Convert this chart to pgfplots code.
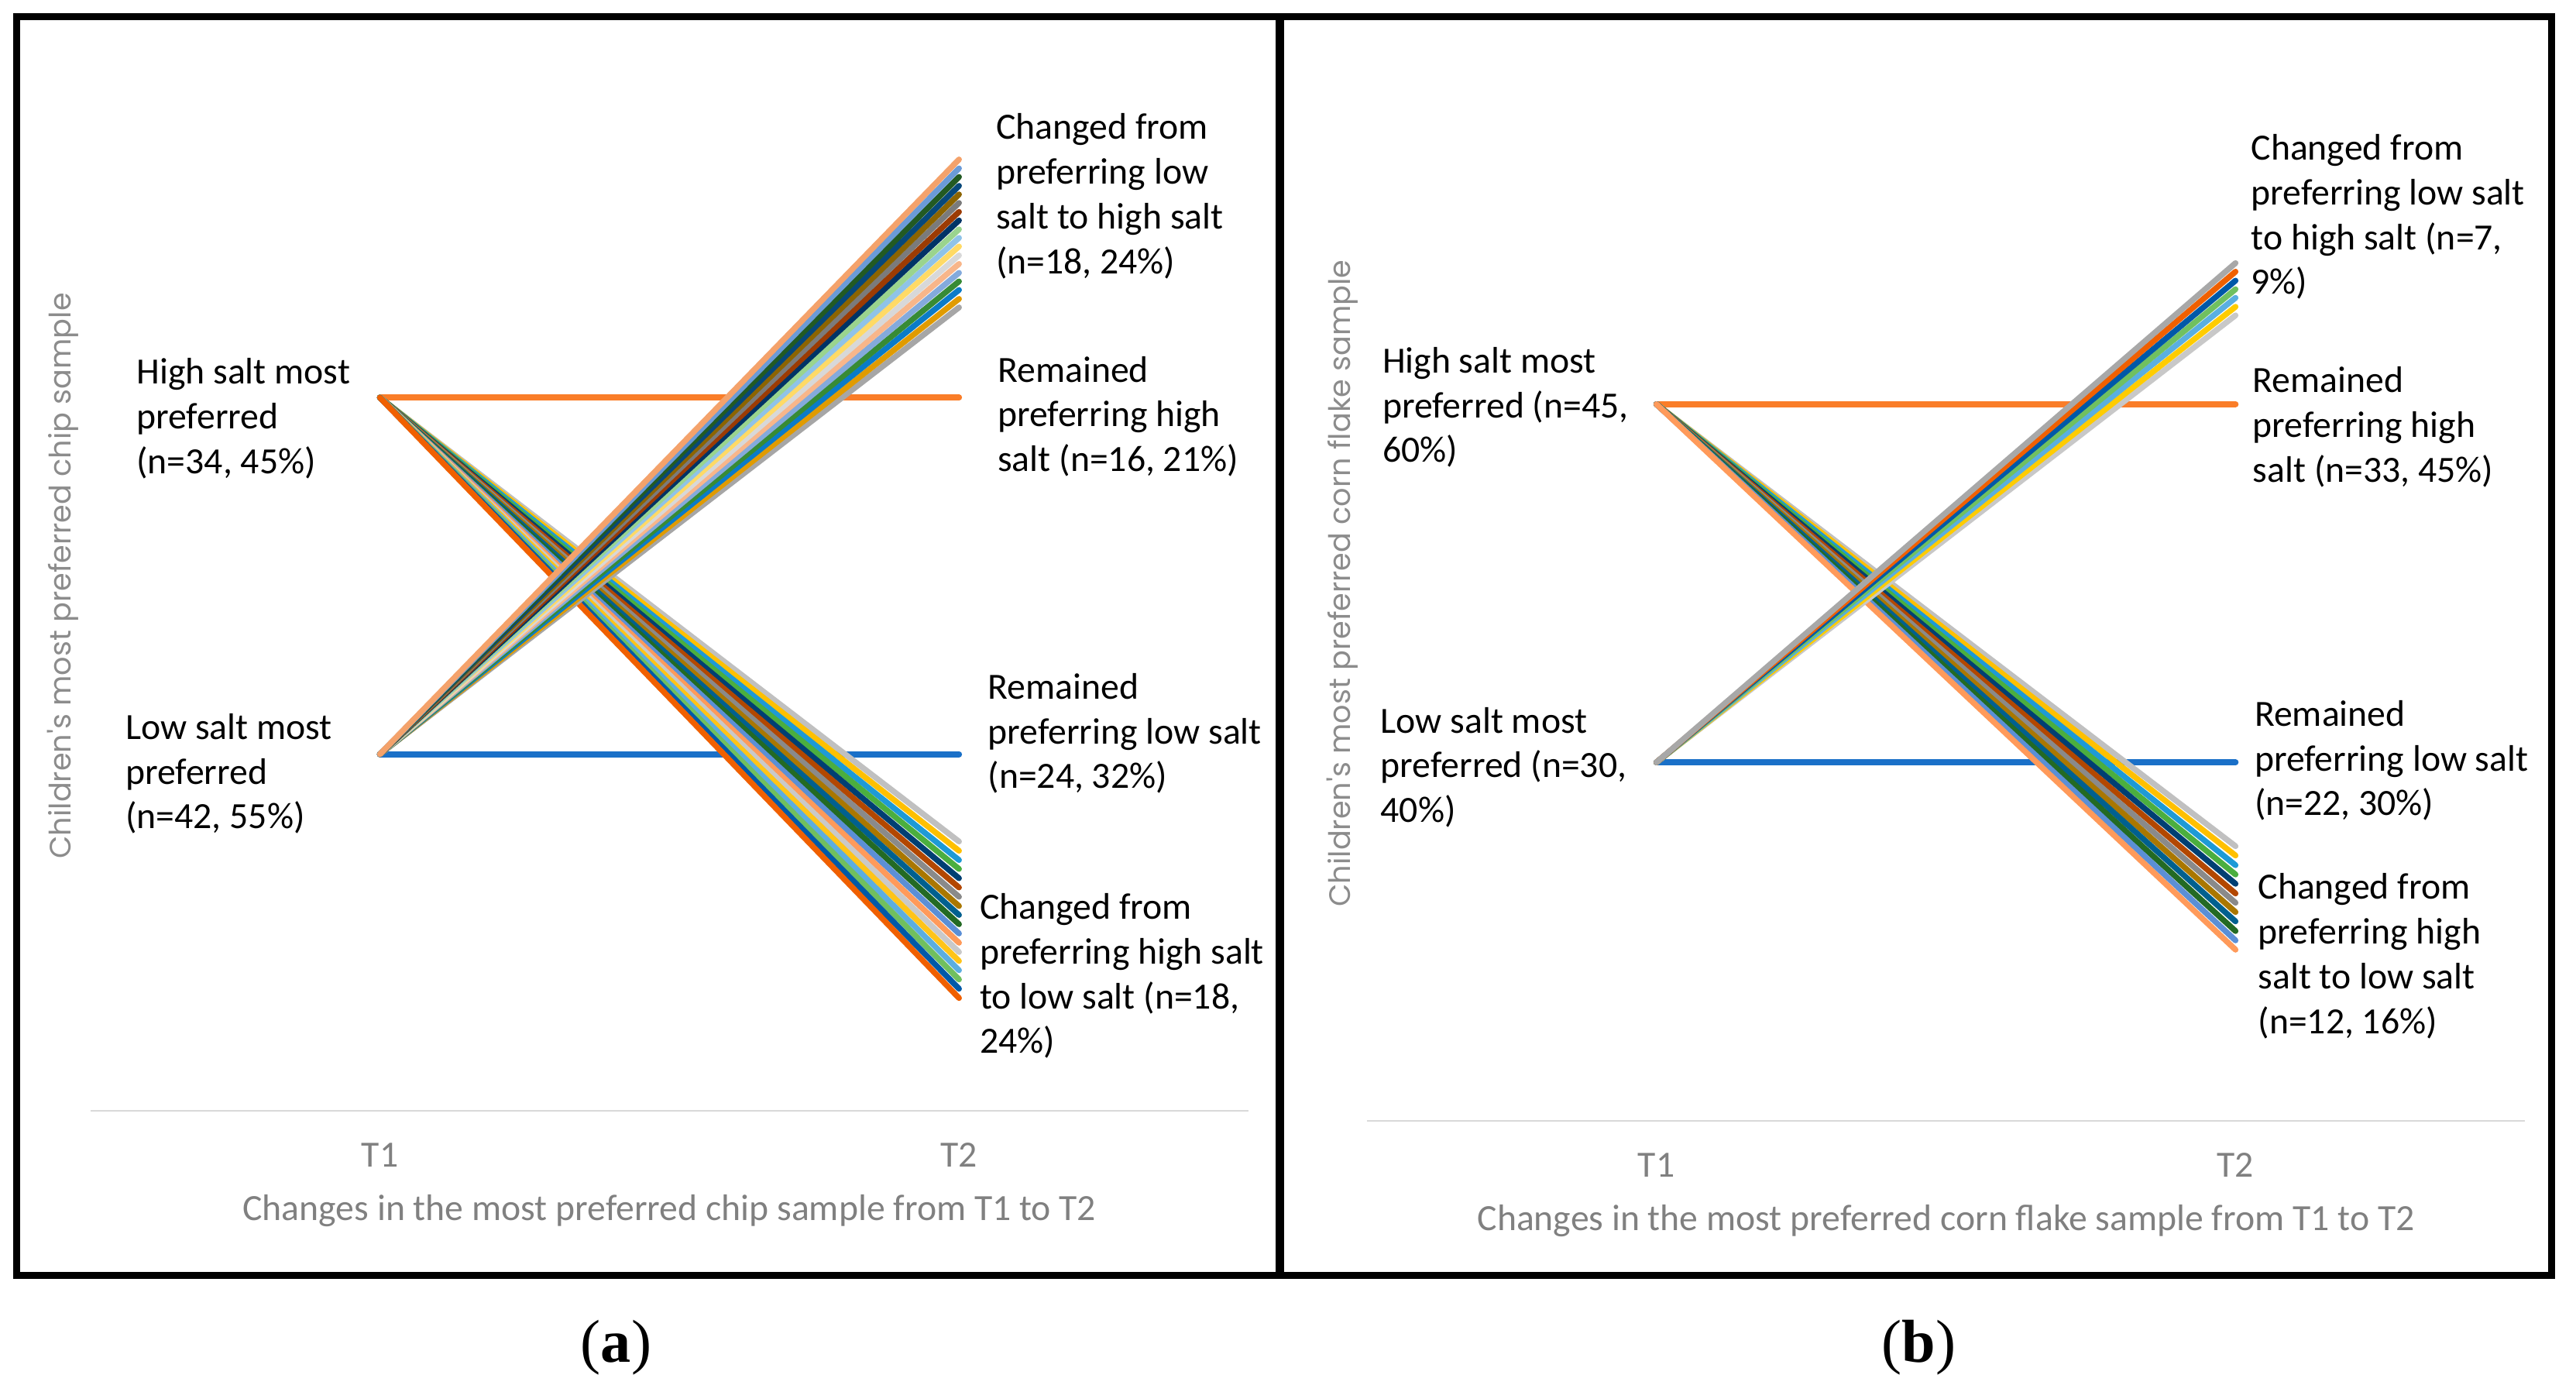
\documentclass[border=0pt]{standalone}
\usepackage{pgfplots}
\pgfplotsset{compat=1.18}
\usepackage{fontspec}
\setmainfont{Carlito}
\newfontfamily\gothic{Poppins}
\newfontfamily\serifb{Liberation Serif}

% horizontal "remained" lines
\definecolor{hiorange}{HTML}{FA7D28}
\definecolor{loblue}{HTML}{1A70C8}
\definecolor{basegray}{HTML}{D9D9D9}
\definecolor{txtgray}{HTML}{808080}
\definecolor{ygray}{HTML}{8C8C8C}

% chip sample, low -> high (top to bottom at T2)
\definecolor{u1}{HTML}{F4A26B}
\definecolor{u2}{HTML}{6B9BD7}
\definecolor{u3}{HTML}{225A23}
\definecolor{u4}{HTML}{07487A}
\definecolor{u5}{HTML}{8C6400}
\definecolor{u6}{HTML}{7B7B7B}
\definecolor{u7}{HTML}{9C3B03}
\definecolor{u8}{HTML}{003366}
\definecolor{u9}{HTML}{9AD48E}
\definecolor{u10}{HTML}{8FC3E8}
\definecolor{u11}{HTML}{FFDA66}
\definecolor{u12}{HTML}{D8D8D8}
\definecolor{u13}{HTML}{F8B68A}
\definecolor{u14}{HTML}{84AADC}
\definecolor{u15}{HTML}{378B35}
\definecolor{u16}{HTML}{0A7BC8}
\definecolor{u17}{HTML}{E09B00}
\definecolor{u18}{HTML}{A6A6A6}

% high -> low (top to bottom at T2)
\definecolor{l1}{HTML}{C0C0C0}
\definecolor{l2}{HTML}{FFC000}
\definecolor{l3}{HTML}{1E9AD6}
\definecolor{l4}{HTML}{4BAE3F}
\definecolor{l5}{HTML}{003F73}
\definecolor{l6}{HTML}{B34700}
\definecolor{l7}{HTML}{8A8A8A}
\definecolor{l8}{HTML}{AA7700}
\definecolor{l9}{HTML}{00608F}
\definecolor{l10}{HTML}{236A24}
\definecolor{l11}{HTML}{5B8FD6}
\definecolor{l12}{HTML}{FF9A5A}
\definecolor{l13}{HTML}{C9C9C9}
\definecolor{l14}{HTML}{FFC418}
\definecolor{l15}{HTML}{5CAEE0}
\definecolor{l16}{HTML}{70BF5F}
\definecolor{l17}{HTML}{0059A8}
\definecolor{l18}{HTML}{F06000}

% corn flake, low -> high
\definecolor{c1}{HTML}{A8A8A8}
\definecolor{c2}{HTML}{F06000}
\definecolor{c3}{HTML}{0058A8}
\definecolor{c4}{HTML}{70C060}
\definecolor{c5}{HTML}{5AAFE0}
\definecolor{c6}{HTML}{FFCC00}
\definecolor{c7}{HTML}{C8C8C8}

\newcommand{\seg}[3]{\addplot[#1] coordinates {(1,#2) (2,#3)};}

\pgfplotsset{
  panel/.style={
    scale only axis, width=141mm,
    xmin=0.5, xmax=2.5, ymin=0, ymax=3,
    axis x line=bottom, axis y line=none,
    axis line style={draw=basegray, line width=0.6pt, -},
    xtick={1,2}, xticklabels={T1,T2}, ytick=\empty,
    major tick length=0pt, clip=false,
    xticklabel style={anchor=center, yshift=-5.4mm, text=txtgray,
      font=\fontsize{12.8}{15.5}\selectfont},
    xlabel style={at={(axis description cs:0.5,0)}, anchor=center,
      yshift=-12.2mm, text=txtgray, font=\fontsize{12.8}{15.5}\selectfont},
    every axis plot/.append style={line width=2pt, line cap=round},
  },
}
\tikzset{
  lab/.style={anchor=west, align=left, inner sep=0pt,
    font=\fontsize{12.8}{15.5}\selectfont},
  ylab/.style={rotate=90, anchor=center, inner sep=0pt, text=ygray,
    font=\gothic\fontsize{10.25}{12}\selectfont},
}

\begin{document}
\begin{tikzpicture}
\useasboundingbox (0,0) rectangle (313.6mm,169.43mm);

% ---------- (a) chip sample ----------
\begin{axis}[panel, at={(11mm,34.23mm)}, anchor=south west, height=130.2mm,
  xlabel={Changes in the most preferred chip sample from T1 to T2}]
\addplot[hiorange, line width=2.1pt] coordinates {(1,2) (2,2)};
\addplot[loblue, line width=2.1pt] coordinates {(1,1) (2,1)};
% high -> low
\seg{l1}{2}{0.755}
\seg{l2}{2}{0.729}
\seg{l3}{2}{0.703}
\seg{l4}{2}{0.678}
\seg{l5}{2}{0.652}
\seg{l6}{2}{0.626}
\seg{l7}{2}{0.600}
\seg{l8}{2}{0.574}
\seg{l9}{2}{0.549}
\seg{l10}{2}{0.523}
\seg{l11}{2}{0.497}
\seg{l12}{2}{0.471}
\seg{l13}{2}{0.445}
\seg{l14}{2}{0.420}
\seg{l15}{2}{0.394}
\seg{l16}{2}{0.368}
\seg{l17}{2}{0.342}
\seg{l18}{2}{0.316}
% low -> high
\seg{u18}{1}{2.253}
\seg{u17}{1}{2.277}
\seg{u16}{1}{2.302}
\seg{u15}{1}{2.326}
\seg{u14}{1}{2.350}
\seg{u13}{1}{2.375}
\seg{u12}{1}{2.399}
\seg{u11}{1}{2.424}
\seg{u10}{1}{2.448}
\seg{u9}{1}{2.472}
\seg{u8}{1}{2.497}
\seg{u7}{1}{2.521}
\seg{u6}{1}{2.546}
\seg{u5}{1}{2.570}
\seg{u4}{1}{2.594}
\seg{u3}{1}{2.619}
\seg{u2}{1}{2.643}
\seg{u1}{1}{2.668}

\node[lab] at (axis cs:0.579,1.942) {High salt most\\preferred\\(n=34, 45\%)};
\node[lab] at (axis cs:0.560,0.945) {Low salt most\\preferred\\(n=42, 55\%)};
\node[lab] at (axis cs:2.063,2.565) {Changed from\\preferring low\\salt to high salt\\(n=18, 24\%)};
\node[lab] at (axis cs:2.066,1.947) {Remained\\preferring high\\salt (n=16, 21\%)};
\node[lab] at (axis cs:2.049,1.058) {Remained\\preferring low salt\\(n=24, 32\%)};
\node[lab] at (axis cs:2.035,0.378) {Changed from\\preferring high salt\\to low salt (n=18,\\24\%)};
\node[ylab] at (axis description cs:-0.024,0.5) {Children's most preferred chip sample};
\end{axis}

% ---------- (b) corn flake sample ----------
\begin{axis}[panel, at={(166.4mm,33.03mm)}, anchor=south west, height=130.8mm,
  xlabel={Changes in the most preferred corn flake sample from T1 to T2}]
\addplot[hiorange, line width=2.1pt] coordinates {(1,2) (2,2)};
\addplot[loblue, line width=2.1pt] coordinates {(1,1) (2,1)};
% high -> low
\seg{l1}{2}{0.766}
\seg{l2}{2}{0.740}
\seg{l3}{2}{0.713}
\seg{l4}{2}{0.687}
\seg{l5}{2}{0.661}
\seg{l6}{2}{0.634}
\seg{l7}{2}{0.608}
\seg{l8}{2}{0.582}
\seg{l9}{2}{0.556}
\seg{l10}{2}{0.529}
\seg{l11}{2}{0.503}
\seg{l12}{2}{0.477}
% low -> high
\seg{c7}{1}{2.248}
\seg{c6}{1}{2.272}
\seg{c5}{1}{2.297}
\seg{c4}{1}{2.321}
\seg{c3}{1}{2.345}
\seg{c2}{1}{2.370}
\seg{c1}{1}{2.394}

\node[lab] at (axis cs:0.526,1.991) {High salt most\\preferred (n=45,\\60\%)};
\node[lab] at (axis cs:0.523,0.986) {Low salt most\\preferred (n=30,\\40\%)};
\node[lab] at (axis cs:2.026,2.523) {Changed from\\preferring low salt\\to high salt (n=7,\\9\%)};
\node[lab] at (axis cs:2.029,1.936) {Remained\\preferring high\\salt (n=33, 45\%)};
\node[lab] at (axis cs:2.032,1.005) {Remained\\preferring low salt\\(n=22, 30\%)};
\node[lab] at (axis cs:2.038,0.459) {Changed from\\preferring high\\salt to low salt\\(n=12, 16\%)};
\node[ylab] at (axis description cs:-0.0213,0.5) {Children's most preferred corn flake sample};
\end{axis}

% panel frames
\draw[line width=0.85mm] (2mm,167.43mm) rectangle (310.6mm,14.23mm);
\draw[line width=1mm] (155.8mm,167.43mm) -- (155.8mm,14.23mm);

\node[font=\serifb\fontsize{21}{24}\selectfont] at (75mm,5.43mm) {(\textbf{a})};
\node[font=\serifb\fontsize{21}{24}\selectfont] at (233.6mm,5.43mm) {(\textbf{b})};
\end{tikzpicture}
\end{document}
